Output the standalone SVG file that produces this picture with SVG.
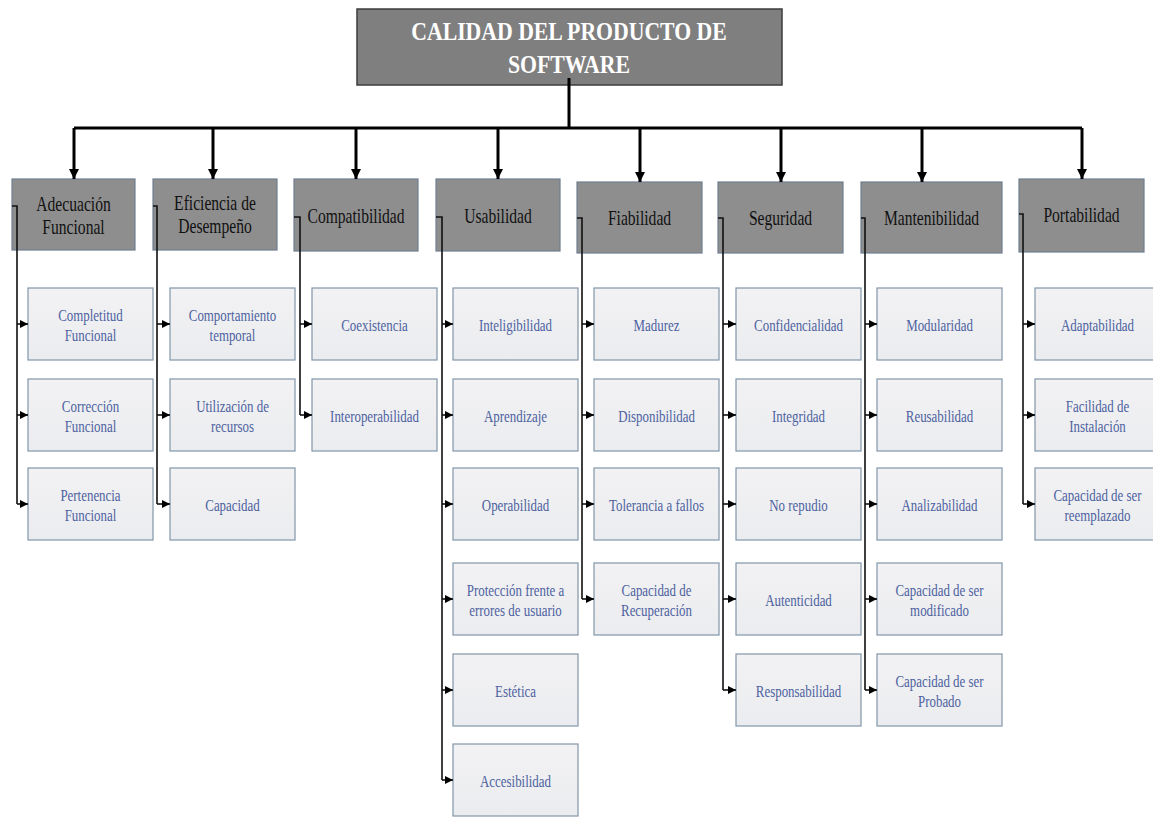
<svg xmlns="http://www.w3.org/2000/svg" width="1153" height="817" viewBox="0 0 1153 817">
  <defs>
    <marker id="bigArrow" viewBox="0 0 10 10" refX="10" refY="5" markerWidth="10" markerHeight="10" markerUnits="userSpaceOnUse" orient="auto">
      <path d="M0,0 L10,5 L0,10 z" fill="#000"/>
    </marker>
    <marker id="smallArrow" viewBox="0 0 8 8" refX="8" refY="4" markerWidth="8" markerHeight="8" markerUnits="userSpaceOnUse" orient="auto">
      <path d="M0,0 L8,4 L0,8 z" fill="#000"/>
    </marker>
    <linearGradient id="leafFill" x1="0" y1="0" x2="0" y2="1">
      <stop offset="0" stop-color="#f2f2f4"/>
      <stop offset="1" stop-color="#ebecef"/>
    </linearGradient>
  </defs>
  <style>
    .root rect { fill: #7f7f7f; stroke: #3c3c3c; stroke-width: 1.5; }
    .root text { font-family: "Liberation Serif", "Times New Roman", serif; font-weight: bold; font-size: 25px; fill: #ffffff; text-anchor: middle; }
    .head rect { fill: #8e8e8e; stroke: #6f7f90; stroke-width: 1.2; }
    .head text { font-family: "Liberation Serif", "Times New Roman", serif; font-size: 20px; fill: #111111; text-anchor: middle; }
    .leaf rect { fill: url(#leafFill); stroke: #8196a9; stroke-width: 1.2; }
    .leaf text { font-family: "Liberation Serif", "Times New Roman", serif; font-size: 17px; fill: #4d62a0; text-anchor: middle; }
    .trunk { fill: none; stroke: #000; stroke-width: 3; }
    .branch { fill: none; stroke: #111; stroke-width: 1.6; }
  </style>

  <rect width="1153" height="817" fill="#ffffff"/>

  <!-- root -->
  <g id="root" class="root">
    <rect x="357" y="9" width="425" height="76"/>
    <text transform="translate(569 40) scale(0.87 1)">CALIDAD DEL PRODUCTO DE</text>
    <text transform="translate(569 73) scale(0.87 1)">SOFTWARE</text>
  </g>

  <!-- characteristics -->
  <g id="h-adecuacion" class="head">
    <rect x="12" y="179" width="123" height="71"/>
    <text transform="translate(73.5 211) scale(0.78 1)">Adecuación</text>
    <text transform="translate(73.5 234) scale(0.78 1)">Funcional</text>
  </g>
  <g id="h-eficiencia" class="head">
    <rect x="153" y="179" width="124" height="71"/>
    <text transform="translate(215 210) scale(0.78 1)">Eficiencia de</text>
    <text transform="translate(215 233) scale(0.78 1)">Desempeño</text>
  </g>
  <g id="h-compatibilidad" class="head">
    <rect x="294" y="179" width="124" height="72"/>
    <text transform="translate(356 223) scale(0.78 1)">Compatibilidad</text>
  </g>
  <g id="h-usabilidad" class="head">
    <rect x="436" y="179" width="124" height="72"/>
    <text transform="translate(498 223) scale(0.78 1)">Usabilidad</text>
  </g>
  <g id="h-fiabilidad" class="head">
    <rect x="577" y="182" width="125" height="71"/>
    <text transform="translate(639.5 225) scale(0.78 1)">Fiabilidad</text>
  </g>
  <g id="h-seguridad" class="head">
    <rect x="718" y="182" width="125" height="71"/>
    <text transform="translate(780.5 225) scale(0.78 1)">Seguridad</text>
  </g>
  <g id="h-mantenibilidad" class="head">
    <rect x="861" y="182" width="141" height="71"/>
    <text transform="translate(931.5 225) scale(0.78 1)">Mantenibilidad</text>
  </g>
  <g id="h-portabilidad" class="head">
    <rect x="1019" y="179" width="125" height="73"/>
    <text transform="translate(1081.5 222) scale(0.78 1)">Portabilidad</text>
  </g>

  <!-- sub-characteristics: Adecuación Funcional -->
  <g id="c-completitud" class="leaf"><rect x="28" y="288" width="125" height="72"/>
    <text transform="translate(90.5 321) scale(0.76 1)">Completitud</text><text transform="translate(90.5 341) scale(0.76 1)">Funcional</text></g>
  <g id="c-correccion" class="leaf"><rect x="28" y="379" width="125" height="72"/>
    <text transform="translate(90.5 412) scale(0.76 1)">Corrección</text><text transform="translate(90.5 432) scale(0.76 1)">Funcional</text></g>
  <g id="c-pertenencia" class="leaf"><rect x="28" y="468" width="125" height="72"/>
    <text transform="translate(90.5 501) scale(0.76 1)">Pertenencia</text><text transform="translate(90.5 521) scale(0.76 1)">Funcional</text></g>

  <!-- Eficiencia de Desempeño -->
  <g id="c-comportamiento" class="leaf"><rect x="170" y="288" width="125" height="72"/>
    <text transform="translate(232.5 321) scale(0.76 1)">Comportamiento</text><text transform="translate(232.5 341) scale(0.76 1)">temporal</text></g>
  <g id="c-utilizacion" class="leaf"><rect x="170" y="379" width="125" height="72"/>
    <text transform="translate(232.5 412) scale(0.76 1)">Utilización  de</text><text transform="translate(232.5 432) scale(0.76 1)">recursos</text></g>
  <g id="c-capacidad" class="leaf"><rect x="170" y="468" width="125" height="72"/>
    <text transform="translate(232.5 511) scale(0.76 1)">Capacidad</text></g>

  <!-- Compatibilidad -->
  <g id="c-coexistencia" class="leaf"><rect x="312" y="288" width="125" height="72"/>
    <text transform="translate(374.5 331) scale(0.76 1)">Coexistencia</text></g>
  <g id="c-interoperabilidad" class="leaf"><rect x="312" y="379" width="125" height="72"/>
    <text transform="translate(374.5 422) scale(0.76 1)">Interoperabilidad</text></g>

  <!-- Usabilidad -->
  <g id="c-inteligibilidad" class="leaf"><rect x="453" y="288" width="125" height="72"/>
    <text transform="translate(515.5 331) scale(0.76 1)">Inteligibilidad</text></g>
  <g id="c-aprendizaje" class="leaf"><rect x="453" y="379" width="125" height="72"/>
    <text transform="translate(515.5 422) scale(0.76 1)">Aprendizaje</text></g>
  <g id="c-operabilidad" class="leaf"><rect x="453" y="468" width="125" height="72"/>
    <text transform="translate(515.5 511) scale(0.76 1)">Operabilidad</text></g>
  <g id="c-proteccion" class="leaf"><rect x="453" y="563" width="125" height="72"/>
    <text transform="translate(515.5 596) scale(0.76 1)">Protección frente a</text><text transform="translate(515.5 616) scale(0.76 1)">errores de usuario</text></g>
  <g id="c-estetica" class="leaf"><rect x="453" y="654" width="125" height="72"/>
    <text transform="translate(515.5 697) scale(0.76 1)">Estética</text></g>
  <g id="c-accesibilidad" class="leaf"><rect x="453" y="744" width="125" height="72"/>
    <text transform="translate(515.5 787) scale(0.76 1)">Accesibilidad</text></g>

  <!-- Fiabilidad -->
  <g id="c-madurez" class="leaf"><rect x="594" y="288" width="125" height="72"/>
    <text transform="translate(656.5 331) scale(0.76 1)">Madurez</text></g>
  <g id="c-disponibilidad" class="leaf"><rect x="594" y="379" width="125" height="72"/>
    <text transform="translate(656.5 422) scale(0.76 1)">Disponibilidad</text></g>
  <g id="c-tolerancia" class="leaf"><rect x="594" y="468" width="125" height="72"/>
    <text transform="translate(656.5 511) scale(0.76 1)">Tolerancia a fallos</text></g>
  <g id="c-recuperacion" class="leaf"><rect x="594" y="563" width="125" height="72"/>
    <text transform="translate(656.5 596) scale(0.76 1)">Capacidad de</text><text transform="translate(656.5 616) scale(0.76 1)">Recuperación</text></g>

  <!-- Seguridad -->
  <g id="c-confidencialidad" class="leaf"><rect x="736" y="288" width="125" height="72"/>
    <text transform="translate(798.5 331) scale(0.76 1)">Confidencialidad</text></g>
  <g id="c-integridad" class="leaf"><rect x="736" y="379" width="125" height="72"/>
    <text transform="translate(798.5 422) scale(0.76 1)">Integridad</text></g>
  <g id="c-norepudio" class="leaf"><rect x="736" y="468" width="125" height="72"/>
    <text transform="translate(798.5 511) scale(0.76 1)">No repudio</text></g>
  <g id="c-autenticidad" class="leaf"><rect x="736" y="563" width="125" height="72"/>
    <text transform="translate(798.5 606) scale(0.76 1)">Autenticidad</text></g>
  <g id="c-responsabilidad" class="leaf"><rect x="736" y="654" width="125" height="72"/>
    <text transform="translate(798.5 697) scale(0.76 1)">Responsabilidad</text></g>

  <!-- Mantenibilidad -->
  <g id="c-modularidad" class="leaf"><rect x="877" y="288" width="125" height="72"/>
    <text transform="translate(939.5 331) scale(0.76 1)">Modularidad</text></g>
  <g id="c-reusabilidad" class="leaf"><rect x="877" y="379" width="125" height="72"/>
    <text transform="translate(939.5 422) scale(0.76 1)">Reusabilidad</text></g>
  <g id="c-analizabilidad" class="leaf"><rect x="877" y="468" width="125" height="72"/>
    <text transform="translate(939.5 511) scale(0.76 1)">Analizabilidad</text></g>
  <g id="c-modificado" class="leaf"><rect x="877" y="563" width="125" height="72"/>
    <text transform="translate(939.5 596) scale(0.76 1)">Capacidad de ser</text><text transform="translate(939.5 616) scale(0.76 1)">modificado</text></g>
  <g id="c-probado" class="leaf"><rect x="877" y="654" width="125" height="72"/>
    <text transform="translate(939.5 687) scale(0.76 1)">Capacidad de ser</text><text transform="translate(939.5 707) scale(0.76 1)">Probado</text></g>

  <!-- Portabilidad -->
  <g id="c-adaptabilidad" class="leaf"><rect x="1035" y="288" width="125" height="72"/>
    <text transform="translate(1097.5 331) scale(0.76 1)">Adaptabilidad</text></g>
  <g id="c-instalacion" class="leaf"><rect x="1035" y="379" width="125" height="72"/>
    <text transform="translate(1097.5 412) scale(0.76 1)">Facilidad de</text><text transform="translate(1097.5 432) scale(0.76 1)">Instalación</text></g>
  <g id="c-reemplazado" class="leaf"><rect x="1035" y="468" width="125" height="72"/>
    <text transform="translate(1097.5 501) scale(0.76 1)">Capacidad de ser</text><text transform="translate(1097.5 521) scale(0.76 1)">reemplazado</text></g>

  <!-- connectors -->
  <g id="connectors">
    <path class="trunk" d="M569 78 V128 M74 128 H1082"/>
    <path class="trunk" d="M74 128 V179" marker-end="url(#bigArrow)"/>
    <path class="trunk" d="M213 128 V179" marker-end="url(#bigArrow)"/>
    <path class="trunk" d="M356 128 V179" marker-end="url(#bigArrow)"/>
    <path class="trunk" d="M498 128 V179" marker-end="url(#bigArrow)"/>
    <path class="trunk" d="M640 128 V182" marker-end="url(#bigArrow)"/>
    <path class="trunk" d="M781 128 V182" marker-end="url(#bigArrow)"/>
    <path class="trunk" d="M922 128 V182" marker-end="url(#bigArrow)"/>
    <path class="trunk" d="M1082 128 V179" marker-end="url(#bigArrow)"/>

    <!-- Adecuación Funcional -->
    <path class="branch" d="M12 206 H17 V504"/>
    <path class="branch" d="M17 324 H28" marker-end="url(#smallArrow)"/>
    <path class="branch" d="M17 415 H28" marker-end="url(#smallArrow)"/>
    <path class="branch" d="M17 504 H28" marker-end="url(#smallArrow)"/>
    <!-- Eficiencia de Desempeño -->
    <path class="branch" d="M153 206 H157 V504"/>
    <path class="branch" d="M157 324 H170" marker-end="url(#smallArrow)"/>
    <path class="branch" d="M157 415 H170" marker-end="url(#smallArrow)"/>
    <path class="branch" d="M157 504 H170" marker-end="url(#smallArrow)"/>
    <!-- Compatibilidad -->
    <path class="branch" d="M294 217 H300 V415"/>
    <path class="branch" d="M300 324 H312" marker-end="url(#smallArrow)"/>
    <path class="branch" d="M300 415 H312" marker-end="url(#smallArrow)"/>
    <!-- Usabilidad -->
    <path class="branch" d="M436 217 H442 V780"/>
    <path class="branch" d="M442 324 H453" marker-end="url(#smallArrow)"/>
    <path class="branch" d="M442 415 H453" marker-end="url(#smallArrow)"/>
    <path class="branch" d="M442 504 H453" marker-end="url(#smallArrow)"/>
    <path class="branch" d="M442 599 H453" marker-end="url(#smallArrow)"/>
    <path class="branch" d="M442 690 H453" marker-end="url(#smallArrow)"/>
    <path class="branch" d="M442 780 H453" marker-end="url(#smallArrow)"/>
    <!-- Fiabilidad -->
    <path class="branch" d="M577 218 H582 V599"/>
    <path class="branch" d="M582 324 H594" marker-end="url(#smallArrow)"/>
    <path class="branch" d="M582 415 H594" marker-end="url(#smallArrow)"/>
    <path class="branch" d="M582 504 H594" marker-end="url(#smallArrow)"/>
    <path class="branch" d="M582 599 H594" marker-end="url(#smallArrow)"/>
    <!-- Seguridad -->
    <path class="branch" d="M718 218 H723 V690"/>
    <path class="branch" d="M723 324 H736" marker-end="url(#smallArrow)"/>
    <path class="branch" d="M723 415 H736" marker-end="url(#smallArrow)"/>
    <path class="branch" d="M723 504 H736" marker-end="url(#smallArrow)"/>
    <path class="branch" d="M723 599 H736" marker-end="url(#smallArrow)"/>
    <path class="branch" d="M723 690 H736" marker-end="url(#smallArrow)"/>
    <!-- Mantenibilidad -->
    <path class="branch" d="M861 218 H865 V690"/>
    <path class="branch" d="M865 324 H877" marker-end="url(#smallArrow)"/>
    <path class="branch" d="M865 415 H877" marker-end="url(#smallArrow)"/>
    <path class="branch" d="M865 504 H877" marker-end="url(#smallArrow)"/>
    <path class="branch" d="M865 599 H877" marker-end="url(#smallArrow)"/>
    <path class="branch" d="M865 690 H877" marker-end="url(#smallArrow)"/>
    <!-- Portabilidad -->
    <path class="branch" d="M1019 214 H1023 V504"/>
    <path class="branch" d="M1023 324 H1035" marker-end="url(#smallArrow)"/>
    <path class="branch" d="M1023 415 H1035" marker-end="url(#smallArrow)"/>
    <path class="branch" d="M1023 504 H1035" marker-end="url(#smallArrow)"/>
  </g>
</svg>
